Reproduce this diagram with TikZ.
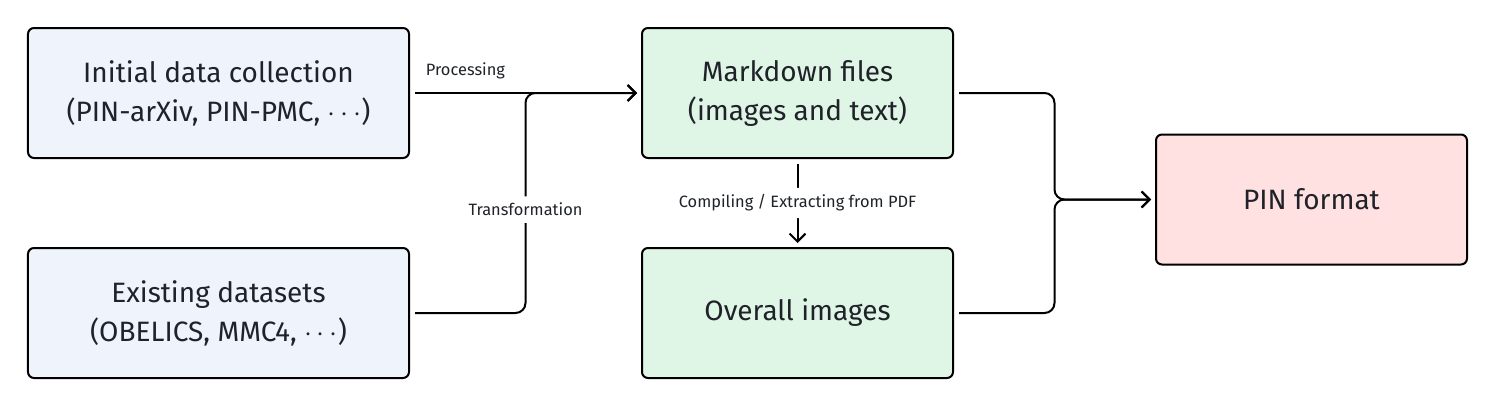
\documentclass[tikz,border=0pt]{standalone}
\usepackage{fontspec}
\setmainfont{Fira Sans}
\usepackage{tikz}
\usetikzlibrary{arrows.meta, positioning, calc}
\definecolor{srcfill}{HTML}{EEF3FC}
\definecolor{midfill}{HTML}{DFF5E5}
\definecolor{outfill}{HTML}{FFE1E1}
\definecolor{inkgray}{HTML}{1F2329}
\tikzset{
  box/.style={
    rectangle, rounded corners=3pt,
    minimum width=155.5pt, minimum height=65pt,
    text centered, align=center, draw=black, line width=1pt,
    font=\fontsize{14}{19.5}\selectfont, text=inkgray,
  },
  source/.style={box, fill=srcfill, minimum width=190.5pt},
  stage/.style={box, fill=midfill},
  target/.style={box, fill=outfill},
  link/.style={line width=1pt, color=black, rounded corners=5pt, shorten <=2.5pt},
  arrow/.style={link, -{Straight Barb[length=4pt,width=8pt]}, shorten >=2pt},
  lbl/.style={font=\fontsize{8.2}{10}\selectfont, text=inkgray},
}
\begin{document}
\begin{tikzpicture}
  \node[source] (init) {Initial data collection\\(PIN-arXiv, PIN-PMC, $\cdots$)};
  \node[source,below=44pt of init] (exist) {Existing datasets\\(OBELICS, MMC4, $\cdots$)};
  \node[stage,right=115.5pt of init] (md) {Markdown files\\(images and text)};
  \node[stage,right=115.5pt of exist] (ov) {Overall images};
  \coordinate (mid) at ($(md.east)!0.5!(ov.east)+(0,1.75pt)$);
  \node[target,right=100.5pt of mid] (pin) {PIN format};
  \coordinate (join) at ($(init.east)!0.5!(md.west)$);
  \coordinate (merge) at ($(mid)!0.5!(pin.west)$);
  \useasboundingbox ($(init.north west)+(-13.5pt,13.5pt)$) rectangle ++(747.5pt,-201pt);
  \draw[arrow] (init.east)--node[lbl,above=3pt,pos=0.24]{Processing}(md.west);
  \draw[arrow] (exist.east)-|node[lbl,fill=white,pos=0.735]{Transformation}(join)--(md.west);
  \draw[arrow] (md.south)--node[lbl,fill=white]{Compiling / Extracting from PDF}(ov.north);
  \draw[arrow] (md.east)-|(merge)--(pin.west);
  \draw[arrow] (ov.east)-|(merge)--(pin.west);
\end{tikzpicture}
\end{document}
